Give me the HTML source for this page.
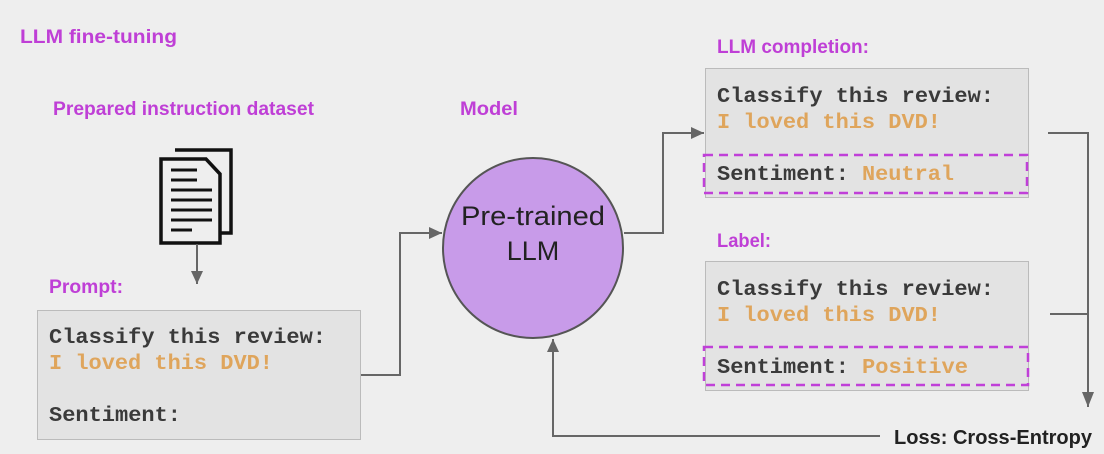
<!DOCTYPE html>
<html><head><meta charset="utf-8"><style>
html,body{margin:0;padding:0;background:#eeeeee;}
svg{display:block}
.h{font-family:"Liberation Sans",sans-serif;font-weight:bold;fill:#bf3fd6;font-size:19px}
.m{font-family:"Liberation Mono",monospace;font-weight:bold;font-size:21px;fill:#3a3a3a}
.o{fill:#dfa55c}
</style></head><body>
<svg width="1104" height="454" viewBox="0 0 1104 454" xmlns="http://www.w3.org/2000/svg">
<defs><marker id="a" markerWidth="14" markerHeight="14" refX="13" refY="6" orient="auto" markerUnits="userSpaceOnUse"><path d="M0,0 L13,6 L0,12 z" fill="#666"/></marker>
<marker id="b" markerWidth="14" markerHeight="18" refX="15" refY="6" orient="auto" markerUnits="userSpaceOnUse"><path d="M0,0 L15,6 L0,12 z" fill="#666"/></marker></defs>
<rect width="1104" height="454" fill="#eeeeee"/>
<text class="h" x="20" y="43" textLength="157" lengthAdjust="spacingAndGlyphs">LLM fine-tuning</text>
<text class="h" x="53" y="115" textLength="261" lengthAdjust="spacingAndGlyphs">Prepared instruction dataset</text>
<text class="h" x="460" y="115" textLength="58" lengthAdjust="spacingAndGlyphs">Model</text>
<text class="h" x="717" y="53" textLength="152" lengthAdjust="spacingAndGlyphs">LLM completion:</text>
<text class="h" x="717" y="247" textLength="54" lengthAdjust="spacingAndGlyphs">Label:</text>
<text class="h" x="49" y="293" textLength="74" lengthAdjust="spacingAndGlyphs">Prompt:</text>
<g fill="none" stroke="#111" stroke-width="3.5">
<path d="M175,150 H231 V233 H219"/>
<path d="M161,159 H206 L220,174 V243 H161 Z" fill="#eeeeee"/>
</g>
<g stroke="#111" stroke-width="3">
<line x1="171" y1="170" x2="197" y2="170"/><line x1="171" y1="180" x2="197" y2="180"/>
<line x1="171" y1="190" x2="212" y2="190"/><line x1="171" y1="200" x2="212" y2="200"/>
<line x1="171" y1="210" x2="212" y2="210"/><line x1="171" y1="220" x2="212" y2="220"/>
<line x1="171" y1="230" x2="192" y2="230"/></g>
<line x1="197" y1="244" x2="197" y2="284" stroke="#666" stroke-width="2" marker-end="url(#a)"/>
<rect x="37.5" y="310.5" width="323" height="129" fill="#e3e3e3" stroke="#bbb"/>
<text class="m" x="49" y="343" textLength="277" lengthAdjust="spacingAndGlyphs">Classify this review:</text>
<text class="m o" x="49" y="369" textLength="224" lengthAdjust="spacingAndGlyphs">I loved this DVD!</text>
<text class="m" x="49" y="421" textLength="132" lengthAdjust="spacingAndGlyphs">Sentiment:</text>
<polyline points="361,375 400,375 400,233 442,233" fill="none" stroke="#666" stroke-width="2" marker-end="url(#a)"/>
<polyline points="624,233 663,233 663,133 704,133" fill="none" stroke="#666" stroke-width="2" marker-end="url(#a)"/>
<polyline points="1048,133 1088,133 1088,407" fill="none" stroke="#666" stroke-width="2" marker-end="url(#b)"/>
<line x1="1050" y1="314" x2="1088" y2="314" stroke="#666" stroke-width="2"/>
<circle cx="533" cy="248" r="90" fill="#c89be9" stroke="#555" stroke-width="2"/>
<polyline points="880,436 553,436 553,339" fill="none" stroke="#666" stroke-width="2" marker-end="url(#a)"/>
<text x="533" y="225" text-anchor="middle" font-family="Liberation Sans,sans-serif" font-size="27" fill="#222" textLength="144" lengthAdjust="spacingAndGlyphs">Pre-trained</text>
<text x="533" y="260" text-anchor="middle" font-family="Liberation Sans,sans-serif" font-size="27" fill="#222">LLM</text>
<rect x="705.5" y="68.5" width="323" height="129" fill="#e3e3e3" stroke="#bbb"/>
<text class="m" x="717" y="102" textLength="277" lengthAdjust="spacingAndGlyphs">Classify this review:</text>
<text class="m o" x="717" y="128" textLength="224" lengthAdjust="spacingAndGlyphs">I loved this DVD!</text>
<rect x="704" y="155" width="323" height="38" fill="none" stroke="#c040d8" stroke-width="2.5" stroke-dasharray="9,6"/>
<text class="m" x="717" y="180" textLength="132" lengthAdjust="spacingAndGlyphs">Sentiment:</text>
<text class="m o" x="862" y="180" textLength="92" lengthAdjust="spacingAndGlyphs">Neutral</text>
<rect x="705.5" y="261.5" width="323" height="129" fill="#e3e3e3" stroke="#bbb"/>
<text class="m" x="717" y="295" textLength="277" lengthAdjust="spacingAndGlyphs">Classify this review:</text>
<text class="m o" x="717" y="321" textLength="224" lengthAdjust="spacingAndGlyphs">I loved this DVD!</text>
<rect x="704" y="347" width="324" height="38" fill="none" stroke="#c040d8" stroke-width="2.5" stroke-dasharray="9,6"/>
<text class="m" x="717" y="373" textLength="132" lengthAdjust="spacingAndGlyphs">Sentiment:</text>
<text class="m o" x="862" y="373" textLength="106" lengthAdjust="spacingAndGlyphs">Positive</text>
<text x="894" y="444" font-family="Liberation Sans,sans-serif" font-size="20" fill="#222" font-weight="bold" textLength="198" lengthAdjust="spacingAndGlyphs">Loss: Cross-Entropy</text>
</svg>
</body></html>
